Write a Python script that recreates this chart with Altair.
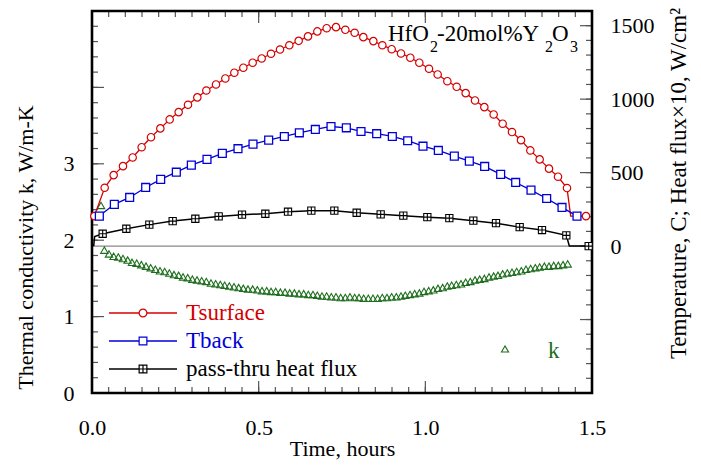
import altair as alt
import pandas as pd
import numpy as np

FONT = "Liberation Serif"
W, H = 500, 382
XDOM = [0, 1.5]
KDOM = [0, 5]
TDOM = [-1000, 1600]

RED = "#d40000"
BLUE = "#0000d8"
GREEN = "#1d6e1d"
BLACK = "#000000"

# ---- data ----
# Tsurface (time h, temperature C, marker shown)
t_surf = [0.007, 0.038, 0.065, 0.093, 0.122, 0.149, 0.177, 0.205, 0.233, 0.26, 0.288, 0.316,
          0.343, 0.372, 0.40, 0.427, 0.454, 0.482, 0.509, 0.537, 0.564, 0.592, 0.62, 0.648,
          0.676, 0.704, 0.732, 0.76, 0.788, 0.814, 0.844, 0.871, 0.899, 0.927, 0.955, 0.982,
          1.011, 1.037, 1.066, 1.094, 1.121, 1.149, 1.177, 1.205, 1.232, 1.26, 1.287, 1.315,
          1.343, 1.371, 1.398, 1.425, 1.436, 1.482]
T_surf = [204, 397, 483, 544, 603, 673, 741, 801, 862, 912, 962, 1012,
          1059, 1100, 1141, 1180, 1214, 1248, 1277, 1309, 1338, 1367, 1397, 1427,
          1461, 1483, 1490, 1472, 1452, 1422, 1395, 1367, 1340, 1311, 1282, 1248,
          1207, 1168, 1122, 1084, 1041, 991, 946, 896, 833, 776, 721, 651,
          590, 527, 472, 395, 204, 204]
m_surf = [1] * 52 + [0, 1]

# Tback
t_back = [0.022, 0.067, 0.113, 0.161, 0.206, 0.253, 0.298, 0.345, 0.391, 0.438, 0.483, 0.53,
          0.577, 0.622, 0.67, 0.717, 0.763, 0.807, 0.854, 0.901, 0.947, 0.993, 1.039, 1.087,
          1.132, 1.178, 1.226, 1.271, 1.317, 1.364, 1.41, 1.455]
T_back = [204, 284, 331, 399, 454, 503, 551, 590, 631, 663, 694, 721,
          746, 771, 794, 814, 805, 780, 765, 746, 717, 680, 651, 612,
          578, 542, 488, 433, 381, 324, 263, 204]

# pass-thru heat flux (x10, W/cm2)
t_flux = [0.005, 0.008, 0.032, 0.103, 0.172, 0.242, 0.31, 0.38, 0.45, 0.52, 0.588, 0.658,
          0.727, 0.794, 0.866, 0.934, 1.006, 1.072, 1.144, 1.212, 1.283, 1.35, 1.423, 1.432, 1.49]
q_flux = [0, 65, 84, 118, 146, 170, 186, 202, 214, 220, 234, 241,
          241, 227, 216, 207, 197, 190, 173, 156, 129, 109, 73, 0, 0]
m_flux = [0, 0] + [1] * 21 + [0, 1]

# thermal conductivity k
t_k = [0.027, 0.037, 0.051, 0.065, 0.079, 0.093, 0.107, 0.120, 0.134, 0.148, 0.162, 0.176,
       0.190, 0.204, 0.218, 0.232, 0.246, 0.260, 0.273, 0.287, 0.301, 0.315, 0.329, 0.343,
       0.357, 0.371, 0.385, 0.398, 0.412, 0.426, 0.440, 0.454, 0.468, 0.482, 0.496, 0.510,
       0.524, 0.537, 0.551, 0.565, 0.579, 0.593, 0.607, 0.621, 0.635, 0.649, 0.663, 0.676,
       0.690, 0.704, 0.718, 0.732, 0.746, 0.760, 0.774, 0.788, 0.801, 0.815, 0.829, 0.843,
       0.857, 0.871, 0.885, 0.899, 0.913, 0.927, 0.940, 0.954, 0.968, 0.982, 0.996, 1.010,
       1.024, 1.038, 1.052, 1.066, 1.079, 1.093, 1.107, 1.121, 1.135, 1.149, 1.163, 1.177,
       1.191, 1.205, 1.218, 1.232, 1.246, 1.260, 1.274, 1.288, 1.302, 1.316, 1.330, 1.343,
       1.357, 1.371, 1.385, 1.399, 1.413, 1.427]
k_val = [2.455, 1.87, 1.82, 1.79, 1.78, 1.76, 1.74, 1.71, 1.70, 1.68, 1.66, 1.64,
         1.62, 1.60, 1.59, 1.57, 1.55, 1.54, 1.52, 1.51, 1.49, 1.48, 1.47, 1.46,
         1.44, 1.43, 1.42, 1.41, 1.40, 1.39, 1.38, 1.37, 1.36, 1.36, 1.35, 1.34,
         1.34, 1.33, 1.33, 1.32, 1.32, 1.31, 1.31, 1.30, 1.30, 1.29, 1.29, 1.28,
         1.27, 1.27, 1.26, 1.26, 1.25, 1.25, 1.26, 1.25, 1.25, 1.24, 1.24, 1.24,
         1.24, 1.25, 1.25, 1.26, 1.26, 1.27, 1.28, 1.29, 1.30, 1.31, 1.33, 1.34,
         1.35, 1.37, 1.38, 1.40, 1.41, 1.42, 1.43, 1.45, 1.46, 1.48, 1.49, 1.50,
         1.52, 1.53, 1.54, 1.56, 1.57, 1.58, 1.59, 1.60, 1.62, 1.63, 1.64, 1.65,
         1.66, 1.66, 1.67, 1.67, 1.68, 1.69]

# axis ticks / labels
x_labels = [0, 0.5, 1.0, 1.5]
x_minor = [round(0.05 * i, 2) for i in range(31)]
k_labels = [0, 1, 2, 3]
k_major = [0, 1, 2, 3, 4, 5]
k_minor = [round(0.2 * i, 1) for i in range(26)]
T_labels = [0, 500, 1000, 1500]
T_major = [-1000, -500, 0, 500, 1000, 1500]
T_minor = list(range(-1000, 1601, 100))

legend_names = ["Tsurface", "Tback", "pass-thru heat flux"]
legend_colors = [RED, BLUE, BLACK]

# ---- helpers ----
xaxis = alt.Axis(values=x_labels, format=".1f", title="Time, hours", grid=False, ticks=False,
                 domain=False, labelPadding=24, titlePadding=0, labelFlush=False)
xscale = alt.Scale(domain=XDOM, nice=False, zero=False)
kscale = alt.Scale(domain=KDOM, nice=False, zero=False)
tscale = alt.Scale(domain=TDOM, nice=False, zero=False)


def X(field):
    return alt.X(field, type="quantitative", scale=xscale, axis=xaxis)


def YK(field, axis=None):
    return alt.Y(field, type="quantitative", scale=kscale, axis=axis)


def YT(field, axis=None):
    return alt.Y(field, type="quantitative", scale=tscale, axis=axis)


def df1(**kw):
    return pd.DataFrame(kw)


one = pd.DataFrame({"a": [0]})

layers = []

# zero line of right scale
layers.append(alt.Chart(df1(v=[0])).mark_rule(color="#888888", strokeWidth=1.2).encode(
    y=YT("v"), x=alt.value(0), x2=alt.value(W)))

# ticks (inward)
tick_col = "#555555"
layers.append(alt.Chart(df1(v=x_minor)).mark_rule(color=tick_col, strokeWidth=1.2).encode(
    x=X("v"), y=alt.value(H), y2=alt.value(H - 6)))
layers.append(alt.Chart(df1(v=x_labels)).mark_rule(color=tick_col, strokeWidth=1.2).encode(
    x=X("v"), y=alt.value(H), y2=alt.value(H - 12)))
layers.append(alt.Chart(df1(v=x_minor)).mark_rule(color=tick_col, strokeWidth=1.2).encode(
    x=X("v"), y=alt.value(0), y2=alt.value(6)))
layers.append(alt.Chart(df1(v=x_labels)).mark_rule(color=tick_col, strokeWidth=1.2).encode(
    x=X("v"), y=alt.value(0), y2=alt.value(12)))
layers.append(alt.Chart(df1(v=k_minor)).mark_rule(color=tick_col, strokeWidth=1.2).encode(
    y=YK("v"), x=alt.value(0), x2=alt.value(6)))
layers.append(alt.Chart(df1(v=k_major)).mark_rule(color=tick_col, strokeWidth=1.2).encode(
    y=YK("v"), x=alt.value(0), x2=alt.value(12)))
layers.append(alt.Chart(df1(v=T_minor)).mark_rule(color=tick_col, strokeWidth=1.2).encode(
    y=YT("v"), x=alt.value(W), x2=alt.value(W - 6)))
layers.append(alt.Chart(df1(v=T_major)).mark_rule(color=tick_col, strokeWidth=1.2).encode(
    y=YT("v"), x=alt.value(W), x2=alt.value(W - 12)))

# frame
layers.append(alt.Chart(one).mark_rect(fill="white", fillOpacity=0, stroke=BLACK,
                                       strokeWidth=2.6).encode(
    x=alt.value(0), x2=alt.value(W), y=alt.value(0), y2=alt.value(H)))

# left axis carrier (k)
kaxis = alt.Axis(values=k_labels, format="d", title="Thermal conductivity k, W/m-K", grid=False,
                 ticks=False, domain=False, labelPadding=18, titlePadding=26, orient="left",
                 titleY=236)
k_df = df1(t=t_k, k=k_val)
layers.append(alt.Chart(k_df).mark_point(shape="triangle-up", filled=False, color=GREEN,
                                          size=55, strokeWidth=1.1, opacity=1).encode(
    x=X("t"), y=YK("k", kaxis)))

# right axis carrier + temperatures
taxis = alt.Axis(values=T_labels, format="d", title="Temperature, C; Heat flux×10, W/cm²",
                 grid=False, ticks=False, domain=False, labelPadding=18, titlePadding=36,
                 orient="right", titleAngle=270, titleY=172, titleFontSize=23)
surf_df = df1(t=t_surf, v=T_surf, m=m_surf)
layers.append(alt.Chart(surf_df).mark_line(color=RED, strokeWidth=1.3).encode(
    x=X("t"), y=YT("v", taxis)))
layers.append(alt.Chart(surf_df).transform_filter("datum.m == 1").mark_point(
    shape="circle", color=RED, fill="white", filled=True, stroke=RED, size=55,
    strokeWidth=1.2, opacity=1).encode(x=X("t"), y=YT("v")))

back_df = df1(t=t_back, v=T_back)
layers.append(alt.Chart(back_df).mark_line(color=BLUE, strokeWidth=1.3).encode(
    x=X("t"), y=YT("v")))
layers.append(alt.Chart(back_df).mark_point(
    shape="square", fill="white", filled=True, stroke=BLUE, size=62,
    strokeWidth=1.3, opacity=1).encode(x=X("t"), y=YT("v")))

SQPLUS = "M-1,-1L1,-1L1,1L-1,1Z M0,-1L0,1 M-1,0L1,0"
flux_df = df1(t=t_flux, v=q_flux, m=m_flux)
layers.append(alt.Chart(flux_df).mark_line(color=BLACK, strokeWidth=1.5).encode(
    x=X("t"), y=YT("v")))
layers.append(alt.Chart(flux_df).transform_filter("datum.m == 1").mark_point(
    shape=SQPLUS, fill="white", filled=True, stroke=BLACK, size=52,
    strokeWidth=1.1, opacity=1).encode(x=X("t"), y=YT("v")))

# legend (lower left)
leg_y = [302, 330, 358]
leg_shapes = ["circle", "square", SQPLUS]
for name, col, yy, shp in zip(legend_names, legend_colors, leg_y, leg_shapes):
    layers.append(alt.Chart(one).mark_rule(color=col, strokeWidth=1.3).encode(
        x=alt.value(17), x2=alt.value(85), y=alt.value(yy)))
    layers.append(alt.Chart(one).mark_point(shape=shp, fill="white", filled=True, stroke=col,
                                            size=60, strokeWidth=1.2, opacity=1).encode(
        x=alt.value(51), y=alt.value(yy)))
    layers.append(alt.Chart(one).mark_text(font=FONT, fontSize=23, color=col, align="left",
                                           baseline="middle").encode(
        x=alt.value(94), y=alt.value(yy), text=alt.value(name)))

# k legend (lower right)
layers.append(alt.Chart(one).mark_point(shape="triangle-up", filled=False, color=GREEN, size=50,
                                        strokeWidth=1.1, opacity=1).encode(
    x=alt.value(413), y=alt.value(338)))
layers.append(alt.Chart(one).mark_text(font=FONT, fontSize=23, color=GREEN, align="left",
                                       baseline="middle").encode(
    x=alt.value(456), y=alt.value(340), text=alt.value("k")))

# material annotation with subscripts
ann = [("HfO", 296, 30, 23), ("2", 338, 41, 16), ("-20mol%Y", 345, 30, 23),
       ("2", 453, 41, 16), ("O", 460, 30, 23), ("3", 478, 41, 16)]
for txt, xx, yy, fs in ann:
    layers.append(alt.Chart(one).mark_text(font=FONT, fontSize=fs, color=BLACK, align="left",
                                           baseline="alphabetic").encode(
        x=alt.value(xx), y=alt.value(yy), text=alt.value(txt)))

chart = alt.layer(*layers).resolve_scale(y="independent").properties(
    width=W, height=H,
    background="white",
    autosize=alt.AutoSizeParams(type="none"),
    padding={"left": 84, "top": 3, "right": 101, "bottom": 70},
).configure_view(strokeWidth=0).configure_axis(
    labelFont=FONT, titleFont=FONT, labelFontSize=22, titleFontSize=22,
    labelColor=BLACK, titleColor=BLACK, titleFontWeight="normal"
)

chart.save("out.html", embed_options={"renderer": "svg", "actions": False})
